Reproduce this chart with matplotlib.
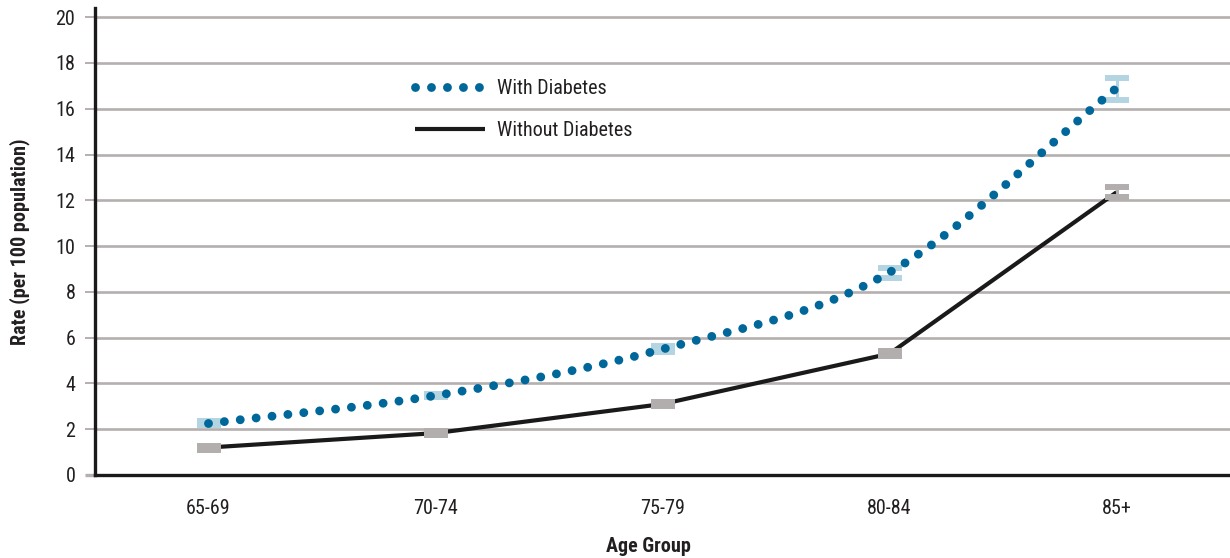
import numpy as np
import matplotlib
matplotlib.use("Agg")
import matplotlib.pyplot as plt
from matplotlib.lines import Line2D

# Rates per 100 population by age group, with confidence limits
age_groups = ["65-69", "70-74", "75-79", "80-84", "85+"]
with_diabetes = [2.25, 3.47, 5.5, 8.85, 16.9]
with_lower = [2.2, 3.41, 5.37, 8.62, 16.39]
with_upper = [2.36, 3.54, 5.65, 9.06, 17.36]
without_diabetes = [1.2, 1.83, 3.1, 5.3, 12.35]
without_lower = [1.1, 1.75, 3.01, 5.18, 12.14]
without_upper = [1.28, 1.92, 3.19, 5.43, 12.58]
y_ticks = [0, 2, 4, 6, 8, 10, 12, 14, 16, 18, 20]
series_labels = ["With Diabetes", "Without Diabetes"]

plt.rcParams["font.family"] = ["Roboto Condensed", "Archivo Narrow", "PT Sans Narrow",
                               "Liberation Sans Narrow", "Liberation Sans", "DejaVu Sans"]

BLUE = "#00679a"
LIGHT_BLUE = "#b3d5e1"
GRAY = "#b3aeae"
BLACK = "#1a1a1a"
GRID = "#b5afaf"
TEXT = "#231f20"


def cardinal_spline(y, n=400):
    """Catmull-Rom curve through equally spaced points (for a smooth line)."""
    y = np.asarray(y, float)
    k = len(y)
    d = np.empty(k)
    d[1:-1] = (y[2:] - y[:-2]) / 2.0
    d[0] = y[1] - y[0]
    d[-1] = y[-1] - y[-2]
    xs = np.linspace(0, k - 1, n)
    i = np.clip(np.floor(xs).astype(int), 0, k - 2)
    t = xs - i
    h00 = 2 * t**3 - 3 * t**2 + 1
    h10 = t**3 - 2 * t**2 + t
    h01 = -2 * t**3 + 3 * t**2
    h11 = t**3 - t**2
    ys = h00 * y[i] + h10 * d[i] + h01 * y[i + 1] + h11 * d[i + 1]
    return xs, ys


fig = plt.figure(figsize=(12.3, 5.58), dpi=100)
ax = fig.add_axes([95 / 1230, 83 / 558, 1135 / 1230, 467 / 558])

x = np.arange(len(age_groups))
w = np.asarray(with_diabetes)
wo = np.asarray(without_diabetes)

# Without diabetes: solid black line
ax.plot(x, wo, color=BLACK, lw=3.0, solid_capstyle="butt", zorder=2.5)

# Confidence intervals drawn as wide capped bars
ax.errorbar(x, w, yerr=[w - np.asarray(with_lower), np.asarray(with_upper) - w],
            fmt="none", ecolor=LIGHT_BLUE, elinewidth=2.2, capsize=8.64,
            capthick=4.3, zorder=3)
ax.errorbar(x, wo, yerr=[wo - np.asarray(without_lower), np.asarray(without_upper) - wo],
            fmt="none", ecolor=GRAY, elinewidth=2.2, capsize=8.64,
            capthick=4.3, zorder=3)

# With diabetes: smooth dotted curve
sx, sy = cardinal_spline(w)
dot_lw = 6.4
dot_style = (0, (0.001, 11.5 / dot_lw))
ax.plot(sx, sy, color=BLUE, lw=dot_lw, ls=dot_style, dash_capstyle="round", zorder=4)

# Axes styling
ax.set_xlim(-0.5, len(age_groups) - 0.5)
ax.set_ylim(0, 20.4)
ax.set_yticks(y_ticks)
ax.set_xticks(x)
ax.set_xticklabels(age_groups)

for side in ("top", "right"):
    ax.spines[side].set_visible(False)
for side in ("left", "bottom"):
    ax.spines[side].set_color(BLACK)
    ax.spines[side].set_linewidth(2.4)
    ax.spines[side].set_zorder(5)

ax.yaxis.grid(True, color=GRID, lw=1.9)
ax.set_axisbelow(True)

ax.tick_params(axis="y", length=7.2, width=1.4, color=GRID, pad=7,
               labelsize=14.5, labelcolor=TEXT)
ax.tick_params(axis="x", length=0, pad=17, labelsize=14.5, labelcolor=TEXT)
zero_tick = ax.yaxis.get_major_ticks()[0]
zero_tick.tick1line.set_color(BLACK)
zero_tick.tick1line.set_markeredgewidth(2.4)

ax.set_xlabel("Age Group", fontsize=14.5, fontweight="bold", color=TEXT, labelpad=14)
ax.xaxis.label.set_x(0.488)
ax.set_ylabel("Rate (per 100 population)", fontsize=14.5, fontweight="bold",
              color=TEXT, labelpad=18)

handles = [
    Line2D([], [], color=BLUE, lw=dot_lw, ls=dot_style, dash_capstyle="round"),
    Line2D([], [], color=BLACK, lw=3.0, solid_capstyle="butt"),
]
leg = ax.legend(handles, series_labels, loc="upper left",
                bbox_to_anchor=(0.282, 0.847), frameon=False, fontsize=14.5,
                handlelength=3.45, handletextpad=0.6, labelspacing=1.1,
                borderpad=0, borderaxespad=0)
for t in leg.get_texts():
    t.set_color(TEXT)

fig.savefig("out.png", dpi=100)
